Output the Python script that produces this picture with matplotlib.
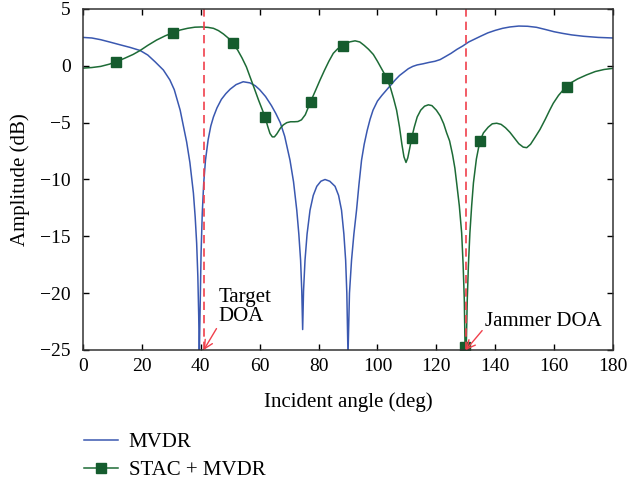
import matplotlib.pyplot as plt

plt.rcParams['font.family'] = ['Liberation Serif', 'DejaVu Serif']
plt.rcParams['font.size'] = 15

# MVDR beam pattern
mvdr_deg = [0, 3, 6, 9, 12.6, 16, 19.4, 22, 24.5, 27.3, 29.5, 31, 33, 34.1, 35.2,
            36.3, 37.5, 38.1, 38.6, 39, 39.3, 39.5, 39.8, 40.1, 40.5, 41, 41.6,
            42.5, 43.4, 44.3, 45.5, 47, 48.5, 50, 52, 54.4, 56.7, 58.5, 60, 62, 64,
            65.5, 67, 68.5, 70.3, 71.5, 72.6, 73.3, 73.9, 74.3, 74.6, 74.9, 75.4,
            76.1, 77.1, 78.2, 79.4, 80.8, 82.2, 83.8, 85.6, 86.8, 87.8, 88.6, 89.2,
            89.6, 90.0, 90.5, 91.2, 92, 92.9, 93.7, 94.6, 95.5, 96.5, 97.5, 98.5,
            100, 101.5, 103, 104.5, 106, 107.5, 109, 110.5, 112, 113.5, 115.5,
            117.5, 119.5, 121.3, 123, 125, 127, 129, 131, 133, 135, 137.5, 140,
            142.5, 145, 148, 151, 154, 157, 160, 163, 166, 170, 175, 180]
mvdr_db = [2.5, 2.45, 2.3, 2.1, 1.85, 1.62, 1.35, 0.95, 0.35, -0.37, -1.24, -2.1,
           -3.9, -5.3, -6.7, -8.5, -11.2, -13.3, -15.6, -18.5, -22.0, -25.5, -21.0,
           -16.5, -13.0, -10.3, -8.3, -6.5, -5.3, -4.5, -3.7, -2.95, -2.45, -2.05,
           -1.65, -1.4, -1.5, -1.75, -2.1, -2.7, -3.5, -4.2, -5.0, -6.2, -8.3,
           -10.2, -12.7, -14.8, -17.1, -19.8, -23.2, -19.8, -17.1, -14.8, -12.7,
           -11.4, -10.6, -10.15, -10.0, -10.15, -10.6, -11.4, -12.7, -14.8, -17.1,
           -20.0, -25.5, -20.0, -17.1, -14.8, -12.7, -10.5, -8.3, -6.9, -5.7, -4.7,
           -3.9, -3.1, -2.6, -2.15, -1.7, -1.25, -0.85, -0.55, -0.25, -0.05, 0.08,
           0.18, 0.3, 0.4, 0.55, 0.8, 1.1, 1.45, 1.75, 2.1, 2.35, 2.6, 2.9, 3.12,
           3.3, 3.42, 3.5, 3.48, 3.39, 3.2, 3.0, 2.85, 2.72, 2.6, 2.5, 2.45]

# STAC + MVDR beam pattern
stac_deg = [0, 3, 6, 9, 11.2, 14, 17, 19.4, 22, 25, 28, 30.5, 33, 35.5, 38, 40.3,
            42.5, 44.3, 46, 47.7, 49.3, 50.8, 52.5, 54, 55.5, 56.7, 58.2, 59.6,
            60.8, 61.8, 62.7, 63.5, 64.3, 65, 65.8, 67, 68, 69.2, 70.5, 71.8, 73,
            74.2, 75.5, 77.3, 79, 80.5, 82, 83.5, 85, 86.5, 88.4, 90.5, 92.4, 94,
            95.5, 97, 98.6, 100, 101.5, 103.1, 104.5, 105.5, 106.5, 107.5, 108.3,
            109, 109.7, 110.3, 111, 111.6, 112.5, 113.5, 114.7, 116, 117.3, 118.5,
            120, 121.3, 122.5, 123.5, 124.5, 125.5, 126.3, 126.9, 127.8, 128.6,
            129.1, 129.5, 129.8, 130.1, 130.5, 130.9, 131.4, 132, 132.6, 133.6,
            134.8, 136, 137.6, 139, 140.5, 142, 143.5, 145, 146.5, 148, 149.5,
            150.7, 152, 153.5, 155.2, 157, 158.5, 159.7, 161.5, 163, 164.3, 166,
            168, 171, 174, 177, 180]
stac_db = [-0.2, -0.15, -0.05, 0.15, 0.36, 0.65, 1.0, 1.35, 1.8, 2.27, 2.65, 2.9,
           3.15, 3.3, 3.4, 3.42, 3.38, 3.3, 3.1, 2.8, 2.45, 1.98, 1.4, 0.7, -0.1,
           -0.95, -2.0, -3.0, -3.8, -4.47, -5.3, -5.95, -6.25, -6.25, -6.0, -5.5,
           -5.2, -5.0, -4.92, -4.92, -4.9, -4.75, -4.3, -3.15, -2.15, -1.25, -0.4,
           0.4, 1.1, 1.5, 1.77, 2.1, 2.2, 2.1, 1.8, 1.45, 1.0, 0.4, -0.3, -1.04,
           -2.0, -2.9, -3.9, -5.4, -6.9, -8.0, -8.5, -8.1, -7.2, -6.37, -5.4, -4.5,
           -3.9, -3.55, -3.43, -3.5, -3.9, -4.4, -5.1, -5.9, -6.6, -7.8, -9.0,
           -10.3, -12.3, -14.7, -17.5, -20.6, -25.5, -25.5, -20.6, -17.5, -14.7,
           -12.3, -10.3, -8.2, -6.6, -5.9, -5.4, -5.1, -5.05, -5.15, -5.45, -5.85,
           -6.35, -6.85, -7.15, -7.2, -6.9, -6.3, -5.6, -4.7, -3.9, -3.3, -2.6,
           -2.15, -1.83, -1.45, -1.15, -0.8, -0.5, -0.32, -0.22]

# square markers on the STAC curve
mark_deg = [11.2, 30.5, 50.8, 61.8, 77.3, 88.4, 103.1, 111.6, 129.8, 134.8, 164.3]
mark_db = [0.36, 2.9, 1.98, -4.47, -3.15, 1.77, -1.04, -6.37, -24.7, -6.6, -1.83]

target_doa = 41
jammer_doa = 130

blue = '#3a58b0'
green = '#1d6b36'
red = '#f0404c'

fig = plt.figure(figsize=(6.3, 4.82), dpi=100)
ax = fig.add_axes((83 / 630, 1 - 350 / 482, 530 / 630, 341 / 482))

ax.plot(mvdr_deg, mvdr_db, color=blue, lw=1.1)
ax.plot(stac_deg, stac_db, color=green, lw=1.1)
ax.plot(mark_deg, mark_db, ls='none', marker='s', ms=6.5, color='#155c2e')

ax.axvline(target_doa, color=red, ls=(0, (5, 3)), lw=1.2)
ax.axvline(jammer_doa, color=red, ls=(0, (5, 3)), lw=1.2)

ax.annotate('Target\nDOA', xy=(target_doa, -25), xytext=(45.9, -21.2),
            ha='left', va='center', linespacing=1.0,
            arrowprops=dict(arrowstyle='->', color=red, lw=1, shrinkA=0, shrinkB=0,
                            relpos=(0, 0)))
ax.annotate('Jammer DOA', xy=(jammer_doa, -25), xytext=(136.5, -22.5),
            ha='left', va='center',
            arrowprops=dict(arrowstyle='->', color=red, lw=1, shrinkA=0, shrinkB=0,
                            relpos=(0, 0.2)))

ax.set_xlim(0, 180)
ax.set_ylim(-25, 5)
ax.set_xticks(range(0, 181, 20))
ax.set_yticks(range(-25, 6, 5))
ax.set_yticklabels(['\u221225', '\u221220', '\u221215', '\u221210', '\u22125', '0', '5'])
ax.tick_params(direction='in', length=4, top=True, right=True, width=1,
               labelsize=14)
ax.tick_params(axis='x', pad=6)
ax.tick_params(axis='y', pad=9)
for s in ax.spines.values():
    s.set_color('#333333')
    s.set_linewidth(1.1)

ax.set_xlabel('Incident angle (deg)', labelpad=12)
ax.set_ylabel('Amplitude (dB)', labelpad=7)

handles = [plt.Line2D([], [], color=blue, lw=1.1),
           plt.Line2D([], [], color=green, lw=1.1, marker='s', ms=6.5,
                      markerfacecolor='#155c2e', markeredgecolor='#155c2e')]
fig.legend(handles, ['MVDR', 'STAC + MVDR'], loc='upper left',
           bbox_to_anchor=(65 / 630, 1 - 414 / 482), frameon=False,
           handlelength=1.65, labelspacing=0.38, handletextpad=0.5)

fig.savefig('out.png', dpi=100)
